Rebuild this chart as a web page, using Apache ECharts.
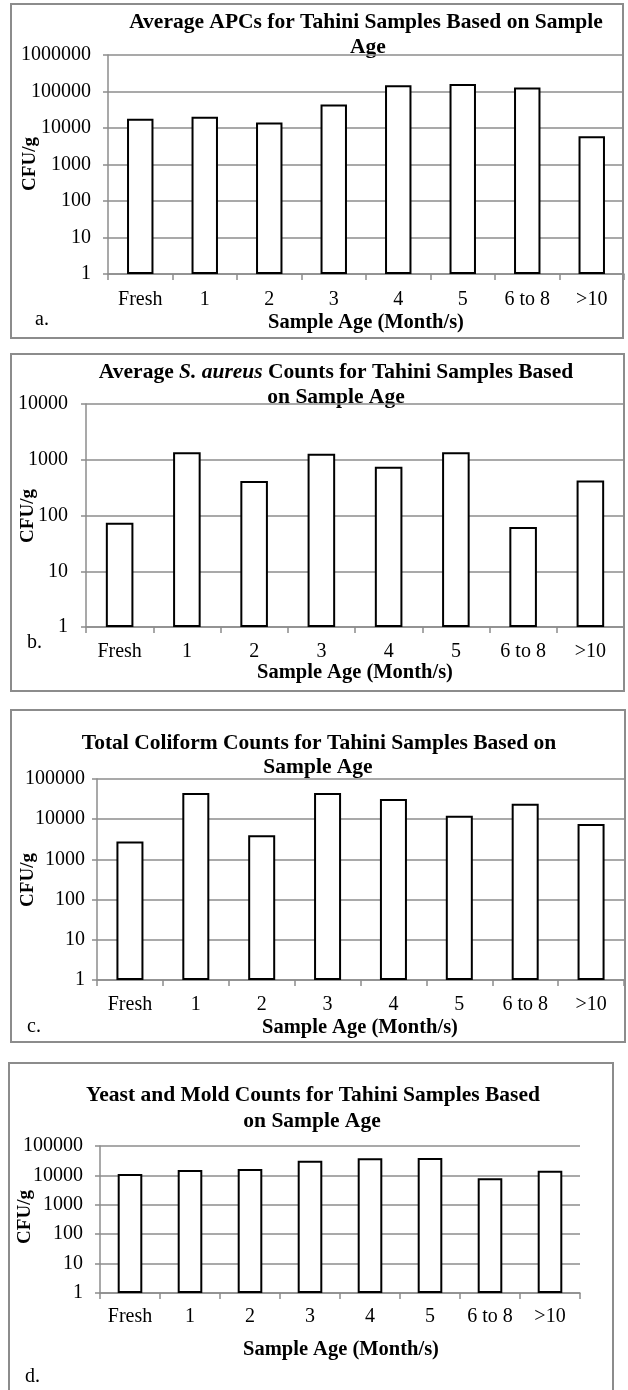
<!DOCTYPE html>
<html>
<head>
<meta charset="utf-8">
<script src="https://cdn.jsdelivr.net/npm/echarts@6/dist/echarts.min.js"></script>
<style>
html,body{margin:0;padding:0;background:#fff;}
#c{width:628px;height:1390px;}
</style>
</head>
<body>
<div id="c"></div>
<script>
const categories = ['Fresh', '1', '2', '3', '4', '5', '6 to 8', '>10'];
const apcValues = [18000, 20300, 14200, 43700, 148000, 161000, 128000, 5960];
const aureusValues = [74, 1370, 414, 1280, 748, 1370, 62, 426];
const coliformValues = [2770, 44700, 3980, 44700, 31600, 12100, 24200, 7640];
const yeastMoldValues = [11100, 15200, 16500, 31800, 38200, 39300, 8070, 14400];
const yTicksA = [1, 10, 100, 1000, 10000, 100000, 1000000];
const yTicksB = [1, 10, 100, 1000, 10000];
const yTicksC = [1, 10, 100, 1000, 10000, 100000];
const yTicksD = [1, 10, 100, 1000, 10000, 100000];
const xAxisTitle = 'Sample Age (Month/s)';
const yAxisTitle = 'CFU/g';

const FAM = 'Liberation Serif';
const FONT = '"Liberation Serif"';
const GRAY = '#8c8c8c';

const panels = [
  { values: apcValues, ticks: yTicksA, grid: {left: 108, right: 4, top: 55, height: 219}, labelMargin: 17, xMargin: 16,
    box: [11, 4, 612, 334], letter: 'a.', letterPos: [35, 320],
    titleLines: [['Average APCs for Tahini Samples Based on Sample', 366, 22], ['Age', 368, 47]],
    xTitle: [366, 323], yTitle: [30, 164] },
  { values: aureusValues, ticks: yTicksB, grid: {left: 86, right: 4, top: 404, height: 223}, labelMargin: 18, xMargin: 15,
    box: [11, 354, 613, 337], letter: 'b.', letterPos: [27, 643],
    titleLines: [['{n|Average }{i|S. aureus}{n| Counts for Tahini Samples Based}', 336, 372], ['on Sample Age', 336, 397]],
    xTitle: [355, 673], yTitle: [28, 516] },
  { values: coliformValues, ticks: yTicksC, grid: {left: 97, right: 4, top: 779, height: 201}, labelMargin: 12, xMargin: 15,
    box: [11, 710, 614, 332], letter: 'c.', letterPos: [27, 1027],
    titleLines: [['Total Coliform Counts for Tahini Samples Based on', 319, 743], ['Sample Age', 318, 767]],
    xTitle: [360, 1028], yTitle: [28, 880] },
  { values: yeastMoldValues, ticks: yTicksD, grid: {left: 100, right: 48, top: 1146, height: 147}, labelMargin: 17, xMargin: 14,
    box: [9, 1063, 604, 340], letter: 'd.', letterPos: [25, 1377],
    titleLines: [['Yeast and Mold Counts for Tahini Samples Based', 313, 1095], ['on Sample Age', 312, 1121]],
    xTitle: [341, 1350], yTitle: [25, 1217] }
];

const grids = [], xAxes = [], yAxes = [], series = [], graphics = [];

panels.forEach((p, i) => {
  grids.push(Object.assign({containLabel: false, show: false}, p.grid));
  xAxes.push({
    type: 'category', gridIndex: i, data: categories, boundaryGap: true,
    axisLine: {show: true, lineStyle: {color: GRAY, width: 1.5}},
    axisTick: {show: true, alignWithLabel: false, length: 6, inside: false, lineStyle: {color: GRAY, width: 1.5}},
    axisLabel: {interval: 0, margin: p.xMargin, fontSize: 20, fontFamily: FAM, fontWeight: 'normal', color: '#000'},
    splitLine: {show: false}
  });
  yAxes.push({
    type: 'log', logBase: 10, gridIndex: i,
    min: p.ticks[0], max: p.ticks[p.ticks.length - 1], splitNumber: p.ticks.length - 1,
    axisLine: {show: true, lineStyle: {color: GRAY, width: 1.5}},
    axisTick: {show: true, length: 5, inside: false, lineStyle: {color: GRAY, width: 1.5}},
    axisLabel: {margin: p.labelMargin, fontSize: 20, fontFamily: FAM, fontWeight: 'normal', color: '#000',
      formatter: v => String(Math.round(v))},
    splitLine: {show: true, lineStyle: {color: GRAY, width: 1.5}}
  });
  series.push({
    type: 'bar', xAxisIndex: i, yAxisIndex: i, data: p.values, barWidth: '41%',
    itemStyle: {color: '#ffffff', borderColor: '#000000', borderWidth: 2},
    silent: true, animation: false
  });
  graphics.push({
    type: 'rect', shape: {x: p.box[0], y: p.box[1], width: p.box[2], height: p.box[3]},
    style: {fill: 'none', stroke: GRAY, lineWidth: 2}, z: -1, silent: true
  });
  p.titleLines.forEach(t => {
    graphics.push({
      type: 'text', x: t[1], y: t[2], silent: true,
      style: {
        text: t[0], fill: '#000', align: 'center', verticalAlign: 'middle',
        font: 'bold 21.5px ' + FONT,
        rich: {
          n: {fontWeight: 'bold', fontSize: 21.5, fontFamily: FAM, fill: '#000'},
          i: {fontWeight: 'bold', fontStyle: 'italic', fontSize: 21.5, fontFamily: FAM, fill: '#000'}
        }
      }
    });
  });
  graphics.push({
    type: 'text', x: p.xTitle[0], y: p.xTitle[1], silent: true,
    style: {text: xAxisTitle, fill: '#000', align: 'center', verticalAlign: 'middle', font: 'bold 20.5px ' + FONT}
  });
  graphics.push({
    type: 'text', x: p.yTitle[0], y: p.yTitle[1], rotation: Math.PI / 2, silent: true,
    style: {text: yAxisTitle, fill: '#000', align: 'center', verticalAlign: 'middle', font: 'bold 19px ' + FONT}
  });
  graphics.push({
    type: 'text', x: p.letterPos[0], y: p.letterPos[1], silent: true,
    style: {text: p.letter, fill: '#000', align: 'left', verticalAlign: 'middle', font: '20px ' + FONT}
  });
});

const chart = echarts.init(document.getElementById('c'), null, {renderer: 'canvas'});
chart.setOption({
  animation: false,
  backgroundColor: '#ffffff',
  textStyle: {fontFamily: FAM, fontSize: 20, color: '#000'},
  grid: grids, xAxis: xAxes, yAxis: yAxes, series: series,
  graphic: {elements: graphics}
});
</script>
</body>
</html>
